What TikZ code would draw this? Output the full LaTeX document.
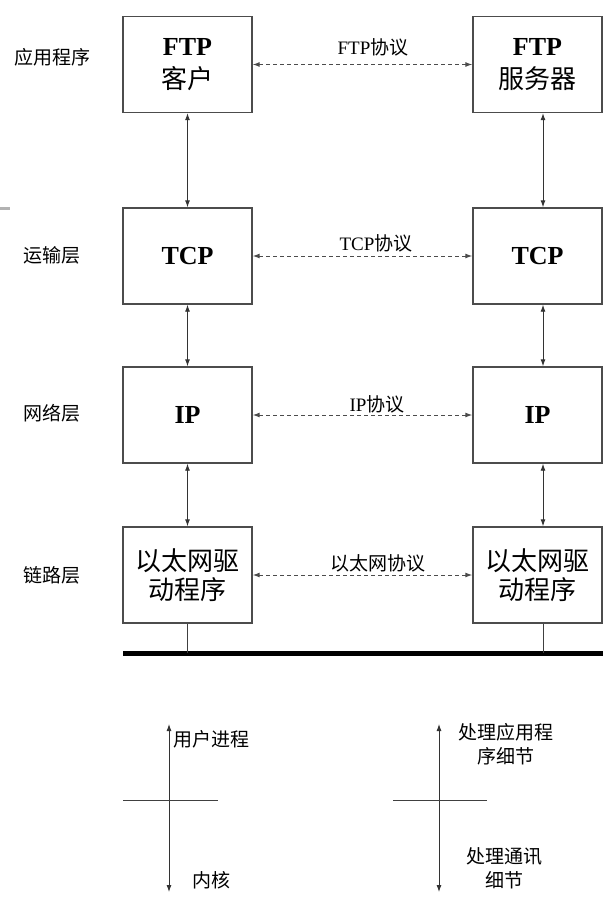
\documentclass[tikz,border=0pt]{standalone}
\usepackage{fontspec}
\setmainfont{Liberation Serif}
\newfontfamily\cjk{Noto Sans CJK SC}
\newcommand\zhtext[1]{{\cjk\mdseries #1}}
\usetikzlibrary{arrows.meta}
\begin{document}
\begin{tikzpicture}[x=1pt,y=-1pt,
  layerbox/.style={draw=black!70, line width=1.4pt, minimum width=129pt, minimum height=96pt,
    inner sep=0pt, align=center, font=\fontsize{26}{29}\selectfont\bfseries},
  small/.style={font=\fontsize{19}{24}\selectfont, inner sep=0pt, align=center},
  tip/.tip={Latex[length=7pt,width=5pt]},
  vlink/.style={tip-tip, line width=0.9pt, draw=black!80},
  proto/.style={vlink, line width=1pt, dash pattern=on 4pt off 3pt, draw=black!70},
  plain/.style={line width=0.9pt, draw=black!75},
  bus/.style={line width=5pt, draw=black}
]
\useasboundingbox (0,0) rectangle (613,907);
\fill[white] (0,0) rectangle (613,907);

% stray mark at the left edge
\coordinate (m1) at (0,208);
\coordinate (m2) at (10,208);
\draw[gray!60, line width=3pt] (m1) -- (m2);

% layer boxes
\node[layerbox] (fc) at (187.5,64.5) {FTP\\[4pt]\zhtext{客户}};
\node[layerbox] (fs) at (537.5,64.5) {FTP\\[4pt]\zhtext{服务器}};
\node[layerbox] (tc) at (187.5,256) {TCP};
\node[layerbox] (ts) at (537.5,256) {TCP};
\node[layerbox] (ic) at (187.5,415) {IP};
\node[layerbox] (is) at (537.5,415) {IP};
\node[layerbox] (ec) at (187.5,575) {\zhtext{以太网驱}\\\zhtext{动程序}};
\node[layerbox] (es) at (537.5,575) {\zhtext{以太网驱}\\\zhtext{动程序}};

% layer names
\node[small] (l1) at (52,57) {\cjk 应用程序};
\node[small] (l2) at (52,255) {\cjk 运输层};
\node[small] (l3) at (52,413) {\cjk 网络层};
\node[small] (l4) at (52,575) {\cjk 链路层};

% vertical links
\draw[vlink] (fc.south) -- (tc.north);
\draw[vlink] (tc.south) -- (ic.north);
\draw[vlink] (ic.south) -- (ec.north);
\draw[vlink] ([xshift=5.5pt]fs.south) -- ([xshift=5.5pt]ts.north);
\draw[vlink] ([xshift=5.5pt]ts.south) -- ([xshift=5.5pt]is.north);
\draw[vlink] ([xshift=5.5pt]is.south) -- ([xshift=5.5pt]es.north);

% protocol links
\draw[proto] (fc.east) -- (fs.west);
\draw[proto] (tc.east) -- (ts.west);
\draw[proto] (ic.east) -- (is.west);
\draw[proto] (ec.east) -- (es.west);
\node[small] (p1) at (373,47) {FTP{\cjk 协议}};
\node[small] (p2) at (376,243) {TCP{\cjk 协议}};
\node[small] (p3) at (377,404) {IP{\cjk 协议}};
\node[small] (p4) at (378,563) {\cjk 以太网协议};

% bus
\coordinate (busL) at (123,653);
\coordinate (busR) at (603,653);
\draw[bus] (busL) -- (busR);
\draw[plain] (ec.south) -- (ec.south |- busL);
\draw[plain] ([xshift=5.5pt]es.south) -- ([xshift=5.5pt]es.south |- busL);

% bottom left cross
\coordinate (a1) at (169,724);
\coordinate (a2) at (169,892);
\coordinate (a3) at (123,800);
\coordinate (a4) at (218,800);
\draw[vlink] (a1) -- (a2);
\draw[plain] (a3) -- (a4);
\node[small, anchor=west] (ua) at (173,739) {\cjk 用户进程};
\node[small] (ub) at (211,880) {\cjk 内核};

% bottom right cross
\coordinate (b1) at (439,724);
\coordinate (b2) at (439,892);
\coordinate (b3) at (393,800);
\coordinate (b4) at (487,800);
\draw[vlink] (b1) -- (b2);
\draw[plain] (b3) -- (b4);
\node[small] (ra) at (506,744) {\cjk 处理应用程\\\cjk 序细节};
\node[small] (rb) at (504,868) {\cjk 处理通讯\\\cjk 细节};
\end{tikzpicture}
\end{document}
